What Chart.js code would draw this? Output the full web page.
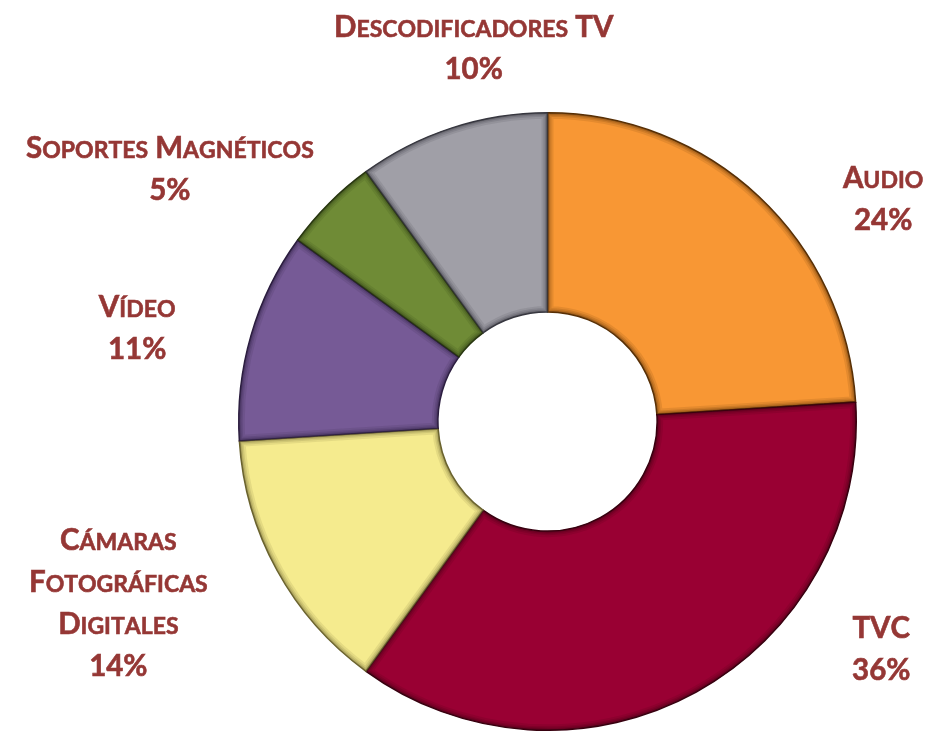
<!DOCTYPE html>
<html>
<head>
<meta charset="utf-8">
<script src="https://cdn.jsdelivr.net/npm/chart.js@4.4.1/dist/chart.umd.min.js"></script>
<style>
  html, body { margin: 0; padding: 0; background: #ffffff; }
  #wrap { width: 932px; height: 731px; position: relative; }
</style>
</head>
<body>
<div id="wrap"><canvas id="c" width="932" height="731"></canvas></div>
<script>
// ---- data ----
const categories = [
  ['Audio'],
  ['TVC'],
  ['Cámaras', 'Fotográficas', 'Digitales'],
  ['Vídeo'],
  ['Soportes Magnéticos'],
  ['Descodificadores TV']
];
const shares = [24, 36, 14, 11, 5, 10];
const sliceColors = ['#F89734', '#990033', '#F5EB8E', '#765A96', '#6F8B36', '#A09FA7'];
const edgeColors  = ['#5A3208', '#3A0012', '#6C6530', '#2E2042', '#2A3812', '#3A3A42'];

// ---- label layout (offsets from centre, in outer-radius units) ----
const labelOffsets = [
  [1.087, -0.723],
  [1.081, 0.735],
  [-1.390, 0.585],
  [-1.329, -0.306],
  [-1.223, -0.819],
  [-0.239, -1.211]
];
const labelColor = '#953735';
const fontFamily = 'Lato, "Open Sans", sans-serif';
const bigSize = 29.5;
const smallSize = 23;
const lineHeight = 42;

function drawSmallCaps(ctx, text, cx, cy) {
  const parts = [];
  let total = 0;
  for (const ch of text) {
    const isLower = ch !== ch.toUpperCase();
    const size = isLower ? smallSize : bigSize;
    const glyph = ch.toUpperCase();
    ctx.font = 'bold ' + size + 'px ' + fontFamily;
    const w = ctx.measureText(glyph).width;
    parts.push({ glyph, size, w });
    total += w;
  }
  let x = cx - total / 2;
  ctx.textBaseline = 'alphabetic';
  ctx.textAlign = 'left';
  const baseline = cy + bigSize * 0.36;
  for (const p of parts) {
    ctx.font = 'bold ' + p.size + 'px ' + fontFamily;
    ctx.fillText(p.glyph, x, baseline);
    ctx.lineWidth = 0.6;
    ctx.strokeText(p.glyph, x, baseline);
    x += p.w;
  }
}

function arcPath(ctx, a) {
  ctx.beginPath();
  ctx.arc(a.x, a.y, a.outerRadius, a.startAngle, a.endAngle);
  ctx.arc(a.x, a.y, a.innerRadius, a.endAngle, a.startAngle, true);
  ctx.closePath();
}

const bevelPlugin = {
  id: 'bevel',
  afterDatasetsDraw(chart) {
    const ctx = chart.ctx;
    const meta = chart.getDatasetMeta(0);
    meta.data.forEach((arc, i) => {
      const a = arc.getProps(['x', 'y', 'startAngle', 'endAngle', 'innerRadius', 'outerRadius'], true);
      ctx.save();
      arcPath(ctx, a);
      ctx.clip();
      const layers = [[12, 0.12], [8, 0.16], [5, 0.22], [2.5, 0.35]];
      for (const [w, al] of layers) {
        arcPath(ctx, a);
        ctx.lineJoin = 'miter';
        ctx.lineWidth = w;
        ctx.globalAlpha = al;
        ctx.strokeStyle = edgeColors[i];
        ctx.stroke();
      }
      ctx.restore();
    });
  }
};

const labelPlugin = {
  id: 'outsideLabels',
  afterDatasetsDraw(chart) {
    const ctx = chart.ctx;
    const meta = chart.getDatasetMeta(0);
    ctx.save();
    ctx.fillStyle = labelColor;
    ctx.strokeStyle = labelColor;
    meta.data.forEach((arc, i) => {
      const r = arc.outerRadius;
      const cx = arc.x + labelOffsets[i][0] * r;
      const cy = arc.y + labelOffsets[i][1] * r;
      const lines = categories[i].concat([shares[i] + '%']);
      const startY = cy - (lines.length - 1) * lineHeight / 2;
      lines.forEach((ln, k) => drawSmallCaps(ctx, ln, cx, startY + k * lineHeight));
    });
    ctx.restore();
  }
};

new Chart(document.getElementById('c'), {
  type: 'doughnut',
  data: {
    labels: categories.map(c => c.join(' ')),
    datasets: [{
      data: shares,
      backgroundColor: sliceColors,
      borderColor: edgeColors,
      borderWidth: 1.5,
      borderJoinStyle: 'miter'
    }]
  },
  options: {
    responsive: false,
    animation: false,
    cutout: '35.5%',
    layout: { padding: { left: 237, right: 74, top: 112, bottom: 0 } },
    plugins: {
      legend: { display: false },
      tooltip: { enabled: false }
    }
  },
  plugins: [bevelPlugin, labelPlugin]
});
</script>
</body>
</html>
